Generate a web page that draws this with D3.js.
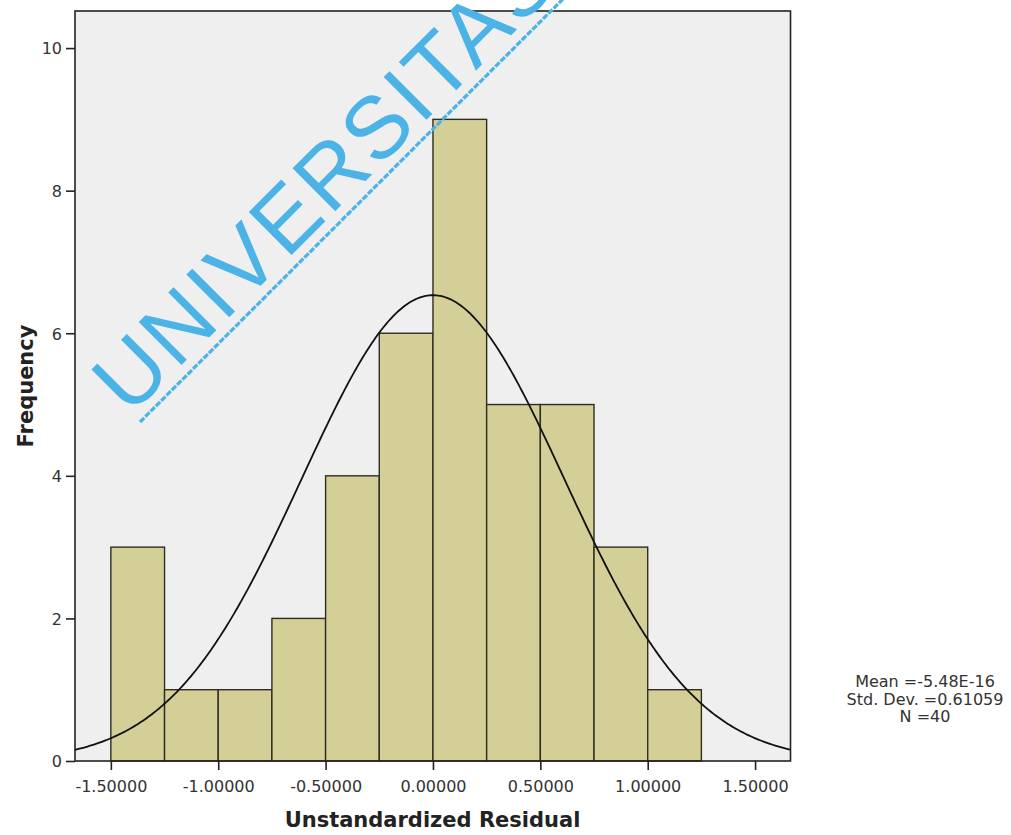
<!DOCTYPE html>
<html>
<head>
<meta charset="utf-8">
<script src="https://cdn.jsdelivr.net/npm/d3@7/dist/d3.min.js"></script>
<style>
  html, body { margin: 0; padding: 0; background: #ffffff; }
  svg { display: block; }
</style>
</head>
<body>
<script>
// Histogram of unstandardized residuals with fitted normal curve
const binStarts = [-1.50, -1.25, -1.00, -0.75, -0.50, -0.25, 0.00, 0.25, 0.50, 0.75, 1.00];
const binWidth = 0.25;
const frequencies = [3, 1, 1, 2, 4, 6, 9, 5, 5, 3, 1];
const xTickValues = [-1.5, -1.0, -0.5, 0.0, 0.5, 1.0, 1.5];
const yTickValues = [0, 2, 4, 6, 8, 10];
const statMean = -5.48e-16;
const statSd = 0.61059;
const statN = 40;
const statLabels = ["Mean =-5.48E-16", "Std. Dev. =0.61059", "N =40"];

const W = 1011, H = 835;
const plot = { left: 75, right: 790.5, top: 11, bottom: 761 };

const svg = d3.select("body").append("svg")
  .attr("width", W).attr("height", H);

const x = d3.scaleLinear().domain([-1.667, 1.665]).range([plot.left, plot.right]);
const y = d3.scaleLinear().domain([0, 10.52]).range([plot.bottom, plot.top]);

// plot background
svg.append("rect")
  .attr("x", plot.left).attr("y", plot.top)
  .attr("width", plot.right - plot.left).attr("height", plot.bottom - plot.top)
  .attr("fill", "#efefef");

svg.append("clipPath").attr("id", "plotClip")
  .append("rect")
  .attr("x", plot.left).attr("y", plot.top)
  .attr("width", plot.right - plot.left).attr("height", plot.bottom - plot.top);

// bars
const bins = binStarts.map((s, i) => ({ x0: s, x1: s + binWidth, n: frequencies[i] }));
svg.append("g").selectAll("rect").data(bins).join("rect")
  .attr("x", d => x(d.x0))
  .attr("y", d => y(d.n))
  .attr("width", d => x(d.x1) - x(d.x0))
  .attr("height", d => y(0) - y(d.n))
  .attr("fill", "#d4cf97")
  .attr("stroke", "#2e2e22")
  .attr("stroke-width", 1.4);

// fitted normal curve scaled to counts per bin
const curvePts = d3.range(0, 401).map(i => {
  const v = x.domain()[0] + (x.domain()[1] - x.domain()[0]) * i / 400;
  const z = (v - statMean) / statSd;
  const f = statN * binWidth * Math.exp(-0.5 * z * z) / (statSd * Math.sqrt(2 * Math.PI));
  return [v, f];
});
svg.append("path")
  .attr("clip-path", "url(#plotClip)")
  .attr("d", d3.line().x(d => x(d[0])).y(d => y(d[1]))(curvePts))
  .attr("fill", "none")
  .attr("stroke", "#111")
  .attr("stroke-width", 1.8);

// frame
svg.append("rect")
  .attr("x", plot.left).attr("y", plot.top)
  .attr("width", plot.right - plot.left).attr("height", plot.bottom - plot.top)
  .attr("fill", "none").attr("stroke", "#222").attr("stroke-width", 1.6);

// axes (plain hyphen for negative numbers)
const font = "'DejaVu Sans', sans-serif";
const fmt5 = d3.format(".5f");
const xAxis = svg.append("g")
  .attr("transform", `translate(0,${plot.bottom})`)
  .call(d3.axisBottom(x).tickValues(xTickValues)
    .tickFormat(d => fmt5(d).replace("\u2212", "-")).tickSize(9).tickPadding(4));
xAxis.select(".domain").remove();
xAxis.selectAll("line").attr("stroke", "#222").attr("stroke-width", 1.6);
xAxis.selectAll("text").attr("font-family", font).attr("font-size", 16).attr("fill", "#333")
  .attr("dy", null).attr("y", 31);

const yAxis = svg.append("g")
  .attr("transform", `translate(${plot.left},0)`)
  .call(d3.axisLeft(y).tickValues(yTickValues).tickFormat(d3.format("d")).tickSize(9).tickPadding(4));
yAxis.select(".domain").remove();
yAxis.selectAll("line").attr("stroke", "#222").attr("stroke-width", 1.6);
yAxis.selectAll("text").attr("font-family", font).attr("font-size", 16).attr("fill", "#333")
  .attr("x", -13).attr("dy", "0.36em");

// axis titles
svg.append("text")
  .attr("x", 432.5).attr("y", 827)
  .attr("text-anchor", "middle")
  .attr("font-family", font).attr("font-weight", "bold").attr("font-size", 21)
  .attr("fill", "#222")
  .text("Unstandardized Residual");

svg.append("text")
  .attr("transform", "translate(33,386) rotate(-90)")
  .attr("text-anchor", "middle")
  .attr("font-family", font).attr("font-weight", "bold").attr("font-size", 21)
  .attr("fill", "#222")
  .text("Frequency");

// summary statistics
svg.append("g").selectAll("text").data(statLabels).join("text")
  .attr("x", 925)
  .attr("y", (d, i) => 687 + i * 17.5)
  .attr("text-anchor", "middle")
  .attr("font-family", font).attr("font-size", 16)
  .attr("fill", "#333")
  .text(d => d);

// diagonal watermark
const wm = svg.append("g").attr("transform", "translate(140,422) rotate(-45)");
wm.append("line")
  .attr("x1", 0).attr("y1", 0).attr("x2", 900).attr("y2", 0)
  .attr("stroke", "#4cb3e6").attr("stroke-width", 3.2)
  .attr("stroke-dasharray", "6 1.5");
wm.append("text")
  .attr("x", -4).attr("y", -11)
  .attr("font-family", "'Liberation Sans', Arial, sans-serif")
  .attr("font-size", 88)
  .attr("letter-spacing", 3)
  .attr("fill", "#4cb3e6")
  .text("UNIVERSITAS");
</script>
</body>
</html>
